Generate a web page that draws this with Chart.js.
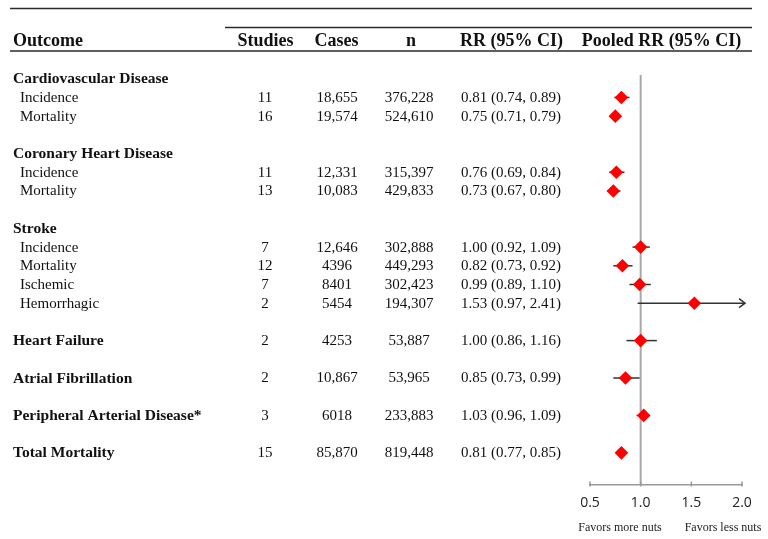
<!DOCTYPE html>
<html>
<head>
<meta charset="utf-8">
<script src="https://cdn.jsdelivr.net/npm/chart.js@4.4.1/dist/chart.umd.min.js"></script>
<style>
  html, body { margin: 0; padding: 0; background: #ffffff; }
  #wrap { width: 768px; height: 539px; position: relative; }
</style>
</head>
<body>
<div id="wrap"><canvas id="c"></canvas></div>
<script>
// ---- Data ----
const outcomes = ['Cardiovascular Disease', 'Incidence', 'Mortality', '',
  'Coronary Heart Disease', 'Incidence', 'Mortality', '',
  'Stroke', 'Incidence', 'Mortality', 'Ischemic', 'Hemorrhagic', '',
  'Heart Failure', '', 'Atrial Fibrillation', '', 'Peripheral Arterial Disease*', '', 'Total Mortality'];
// 0 = outcome group, 1 = sub-outcome, null = spacer
const outcomeLevel = [0, 1, 1, null, 0, 1, 1, null, 0, 1, 1, 1, 1, null, 0, null, 0, null, 0, null, 0];
const studies = [null, 11, 16, null, null, 11, 13, null, null, 7, 12, 7, 2, null, 2, null, 2, null, 3, null, 15];
const cases = [null, 18655, 19574, null, null, 12331, 10083, null, null, 12646, 4396, 8401, 5454, null, 4253, null, 10867, null, 6018, null, 85870];
const nTotal = [null, 376228, 524610, null, null, 315397, 429833, null, null, 302888, 449293, 302423, 194307, null, 53887, null, 53965, null, 233883, null, 819448];
const rr = [null, 0.81, 0.75, null, null, 0.76, 0.73, null, null, 1.00, 0.82, 0.99, 1.53, null, 1.00, null, 0.85, null, 1.03, null, 0.81];
const ciLow = [null, 0.74, 0.71, null, null, 0.69, 0.67, null, null, 0.92, 0.73, 0.89, 0.97, null, 0.86, null, 0.73, null, 0.96, null, 0.77];
const ciHigh = [null, 0.89, 0.79, null, null, 0.84, 0.80, null, null, 1.09, 0.92, 1.10, 2.41, null, 1.16, null, 0.99, null, 1.09, null, 0.85];
const headers = ['Outcome', 'Studies', 'Cases', 'n', 'RR (95% CI)', 'Pooled RR (95% CI)'];
const xTicks = [0.5, 1.0, 1.5, 2.0];
const favorLabels = ['Favors more nuts', 'Favors less nuts'];
const nullValue = 1.0;

// ---- Helpers ----
const SERIF = '"Liberation Serif", "DejaVu Serif", serif';
function fmtCount(v) {
  return v >= 10000 ? v.toLocaleString('en-US') : String(v);
}
const ARROW_LIMIT = 2.03;

const tablePlugin = {
  id: 'forestTable',
  beforeDatasetsDraw(chart) {
    const ctx = chart.ctx, xs = chart.scales.x, ys = chart.scales.y, area = chart.chartArea;
    ctx.save();
    // reference line at RR = 1
    const x1 = xs.getPixelForValue(nullValue);
    ctx.strokeStyle = '#a8a8a8';
    ctx.lineWidth = 2;
    ctx.beginPath();
    ctx.moveTo(x1, area.top);
    ctx.lineTo(x1, area.bottom);
    ctx.stroke();
    // tick marks pointing up from the axis
    ctx.strokeStyle = '#999999';
    ctx.lineWidth = 1.5;
    xTicks.forEach(v => {
      const xp = xs.getPixelForValue(v);
      ctx.beginPath();
      ctx.moveTo(xp, area.bottom - 3.5);
      ctx.lineTo(xp, area.bottom + 1.5);
      ctx.stroke();
    });
    // whiskers
    ctx.strokeStyle = '#333333';
    ctx.lineWidth = 1.5;
    rr.forEach((v, i) => {
      if (v == null) return;
      const y = ys.getPixelForValue(i);
      const xl = xs.getPixelForValue(ciLow[i]);
      const truncated = ciHigh[i] > ARROW_LIMIT;
      const xh = xs.getPixelForValue(Math.min(ciHigh[i], ARROW_LIMIT));
      ctx.beginPath();
      ctx.moveTo(xl, y);
      ctx.lineTo(xh, y);
      ctx.stroke();
      if (truncated) {
        ctx.beginPath();
        ctx.moveTo(xh - 6, y - 4.5);
        ctx.lineTo(xh, y);
        ctx.lineTo(xh - 6, y + 4.5);
        ctx.stroke();
      }
    });
    ctx.restore();
  },
  afterDraw(chart) {
    const ctx = chart.ctx, ys = chart.scales.y;
    ctx.save();
    // rules
    ctx.strokeStyle = '#2a2a2a';
    ctx.lineWidth = 1.3;
    ctx.beginPath(); ctx.moveTo(10, 8.5); ctx.lineTo(752, 8.5); ctx.stroke();
    ctx.beginPath(); ctx.moveTo(225, 27.5); ctx.lineTo(752, 27.5); ctx.stroke();
    ctx.lineWidth = 1.6;
    ctx.beginPath(); ctx.moveTo(10, 51); ctx.lineTo(752, 51); ctx.stroke();

    // headers
    ctx.fillStyle = '#111111';
    ctx.font = 'bold 18px ' + SERIF;
    ctx.textBaseline = 'alphabetic';
    const hy = 46;
    ctx.textAlign = 'left';  ctx.fillText(headers[0], 13, hy);
    ctx.textAlign = 'center';
    ctx.fillText(headers[1], 265.5, hy);
    ctx.fillText(headers[2], 336.5, hy);
    ctx.fillText(headers[3], 411, hy);
    ctx.fillText(headers[4], 511.5, hy);
    ctx.fillText(headers[5], 661.5, hy);

    // rows
    ctx.textBaseline = 'middle';
    outcomes.forEach((label, i) => {
      const lvl = outcomeLevel[i];
      if (lvl == null) return;
      const y = ys.getPixelForValue(i) + 0.5;
      ctx.textAlign = 'left';
      if (lvl === 0) {
        ctx.font = 'bold 15.5px ' + SERIF;
        ctx.fillText(label, 13, y);
      } else {
        ctx.font = '15px ' + SERIF;
        ctx.fillText(label, 20, y);
      }
      if (rr[i] == null) return;
      ctx.font = '15px ' + SERIF;
      ctx.textAlign = 'center';
      ctx.fillText(String(studies[i]), 265, y);
      ctx.fillText(fmtCount(cases[i]), 337, y);
      ctx.fillText(fmtCount(nTotal[i]), 409, y);
      ctx.textAlign = 'left';
      ctx.fillText(rr[i].toFixed(2) + ' (' + ciLow[i].toFixed(2) + ', ' + ciHigh[i].toFixed(2) + ')', 461, y);
    });

    // favors labels
    ctx.font = '12px ' + SERIF;
    ctx.fillStyle = '#222222';
    ctx.textAlign = 'center';
    ctx.fillText(favorLabels[0], 620, 528);
    ctx.fillText(favorLabels[1], 723, 528);
    ctx.restore();
  }
};

const points = rr.map((v, i) => v == null ? null : { x: v, y: i }).filter(p => p);

new Chart(document.getElementById('c'), {
  type: 'scatter',
  data: {
    datasets: [{
      data: points,
      pointStyle: 'rectRot',
      pointRadius: 6.8,
      pointHoverRadius: 6.8,
      backgroundColor: '#ff0000',
      borderColor: '#ff0000',
      borderWidth: 0,
      clip: false
    }]
  },
  options: {
    responsive: true,
    maintainAspectRatio: false,
    animation: false,
    events: [],
    layout: { padding: { left: 590, right: 26, top: 75, bottom: 0 } },
    plugins: { legend: { display: false }, tooltip: { enabled: false } },
    scales: {
      x: {
        type: 'linear',
        min: xTicks[0],
        max: xTicks[xTicks.length - 1],
        afterBuildTicks: (scale) => { scale.ticks = xTicks.map(v => ({ value: v })); },
        afterFit: (scale) => { scale.height = 54; },
        border: { display: true, color: '#999999', width: 1.5 },
        grid: { display: false, drawOnChartArea: false, drawTicks: false, tickLength: 0 },
        ticks: {
          padding: 10,
          color: '#222222',
          font: { family: '"Open Sans", "Noto Sans", sans-serif', size: 14 },
          callback: (v) => Number(v).toFixed(1),
          maxRotation: 0
        }
      },
      y: {
        type: 'linear',
        display: false,
        reverse: true,
        min: -0.2,
        max: 21.72
      }
    }
  },
  plugins: [tablePlugin]
});
</script>
</body>
</html>
